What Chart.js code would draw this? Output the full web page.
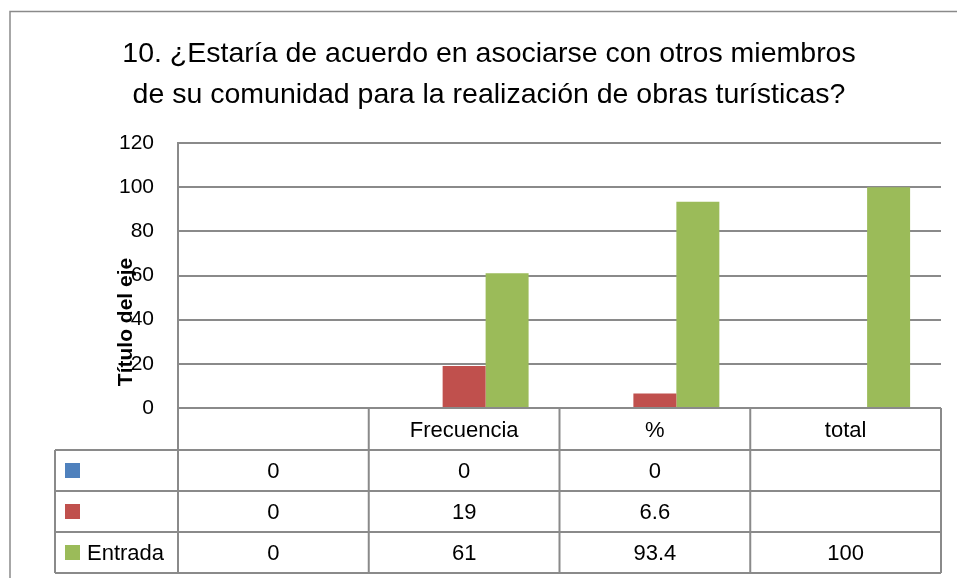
<!DOCTYPE html>
<html><head><meta charset="utf-8">
<script src="https://cdn.jsdelivr.net/npm/chart.js@4/dist/chart.umd.min.js"></script>
<style>html,body{margin:0;padding:0;background:#fff;} canvas{display:block;}</style>
</head><body>
<canvas id="c" width="957" height="578"></canvas>
<script>
const titleLines = ["10. ¿Estaría de acuerdo en asociarse con otros miembros", "de su comunidad para la realización de obras turísticas?"];
const categories = ["", "Frecuencia", "%", "total"];
const seriesNames = ["", "", "Entrada"];
const serieAzul = [0, 0, 0, null];
const serieRoja = [0, 19, 6.6, null];
const serieVerde = [0, 61, 93.4, 100];
const yTicks = [0, 20, 40, 60, 80, 100, 120];
const axisTitle = "Título del eje";
const seriesColors = ["#4F81BD", "#C0504D", "#9BBB59"];

const FONT = "'Liberation Sans', Arial, sans-serif";
const LINE = "#8a8a8a";
const allSeries = [serieAzul, serieRoja, serieVerde];

const deco = {
  id: 'deco',
  afterDraw(chart) {
    const { ctx, chartArea: a } = chart;
    const xs = chart.scales.x;
    ctx.save();
    // outer frame
    ctx.strokeStyle = LINE; ctx.lineWidth = 1.5;
    ctx.beginPath(); ctx.moveTo(10, chart.height); ctx.lineTo(10, 11.5); ctx.lineTo(chart.width, 11.5); ctx.stroke();
    // title
    ctx.fillStyle = '#000'; ctx.font = '28.5px ' + FONT; ctx.textAlign = 'center'; ctx.textBaseline = 'alphabetic';
    titleLines.forEach((t, i) => ctx.fillText(t, 489, 62 + i * 40.5));
    // axis title
    ctx.save(); ctx.translate(126, 322); ctx.rotate(-Math.PI / 2);
    ctx.font = 'bold 21px ' + FONT; ctx.textBaseline = 'middle'; ctx.textAlign = 'center';
    ctx.fillText(axisTitle, 0, 0); ctx.restore();
    // data table
    const n = categories.length;
    const colW = (a.right - a.left) / n;
    const headTop = a.bottom, headBot = a.bottom + 42, rowH = 41;
    const legLeft = 55;
    const tBot = headBot + rowH * allSeries.length;
    ctx.strokeStyle = LINE; ctx.lineWidth = 2;
    ctx.beginPath();
    for (let i = 0; i <= n; i++) {
      const x = i < n ? xs.getPixelForValue(i) - colW / 2 : a.right;
      ctx.moveTo(x, headTop); ctx.lineTo(x, tBot);
    }
    ctx.moveTo(legLeft, headBot); ctx.lineTo(legLeft, tBot);
    ctx.moveTo(a.left, headTop); ctx.lineTo(a.right, headTop);
    for (let r = 0; r <= allSeries.length; r++) {
      const y = headBot + r * rowH;
      ctx.moveTo(legLeft, y); ctx.lineTo(a.right, y);
    }
    ctx.stroke();
    ctx.fillStyle = '#000'; ctx.font = '22px ' + FONT; ctx.textAlign = 'center'; ctx.textBaseline = 'middle';
    categories.forEach((c, i) => ctx.fillText(c, xs.getPixelForValue(i), (headTop + headBot) / 2 + 2));
    allSeries.forEach((s, r) => {
      const cy = headBot + r * rowH + rowH / 2 + 1.5;
      s.forEach((v, i) => {
        if (v === null) return;
        ctx.fillStyle = '#000'; ctx.textAlign = 'center';
        ctx.fillText(String(v), xs.getPixelForValue(i), cy);
      });
      ctx.fillStyle = seriesColors[r];
      ctx.fillRect(65, cy - 9, 15, 15);
      if (seriesNames[r]) { ctx.fillStyle = '#000'; ctx.textAlign = 'left'; ctx.fillText(seriesNames[r], 87, cy); }
    });
    ctx.restore();
  }
};

new Chart(document.getElementById('c'), {
  type: 'bar',
  data: {
    labels: categories,
    datasets: allSeries.map((s, i) => ({
      label: seriesNames[i], data: s, backgroundColor: seriesColors[i], borderWidth: 0,
      categoryPercentage: 0.676, barPercentage: 1
    }))
  },
  options: {
    responsive: false, animation: false, devicePixelRatio: 1,
    layout: { padding: { left: 0, top: 143, right: 16, bottom: 170 } },
    plugins: { legend: { display: false }, title: { display: false }, tooltip: { enabled: false } },
    scales: {
      x: { display: false },
      y: {
        min: 0, max: 120,
        afterBuildTicks: sc => { sc.ticks = yTicks.map(v => ({ value: v })); },
        afterFit: sc => { sc.width = 178; },
        grid: { color: LINE, lineWidth: 2, drawTicks: false },
        border: { display: true, color: LINE, width: 2 },
        ticks: { padding: 24, color: '#000', font: { family: FONT, size: 21 } }
      }
    }
  },
  plugins: [deco]
});
</script>
</body></html>
